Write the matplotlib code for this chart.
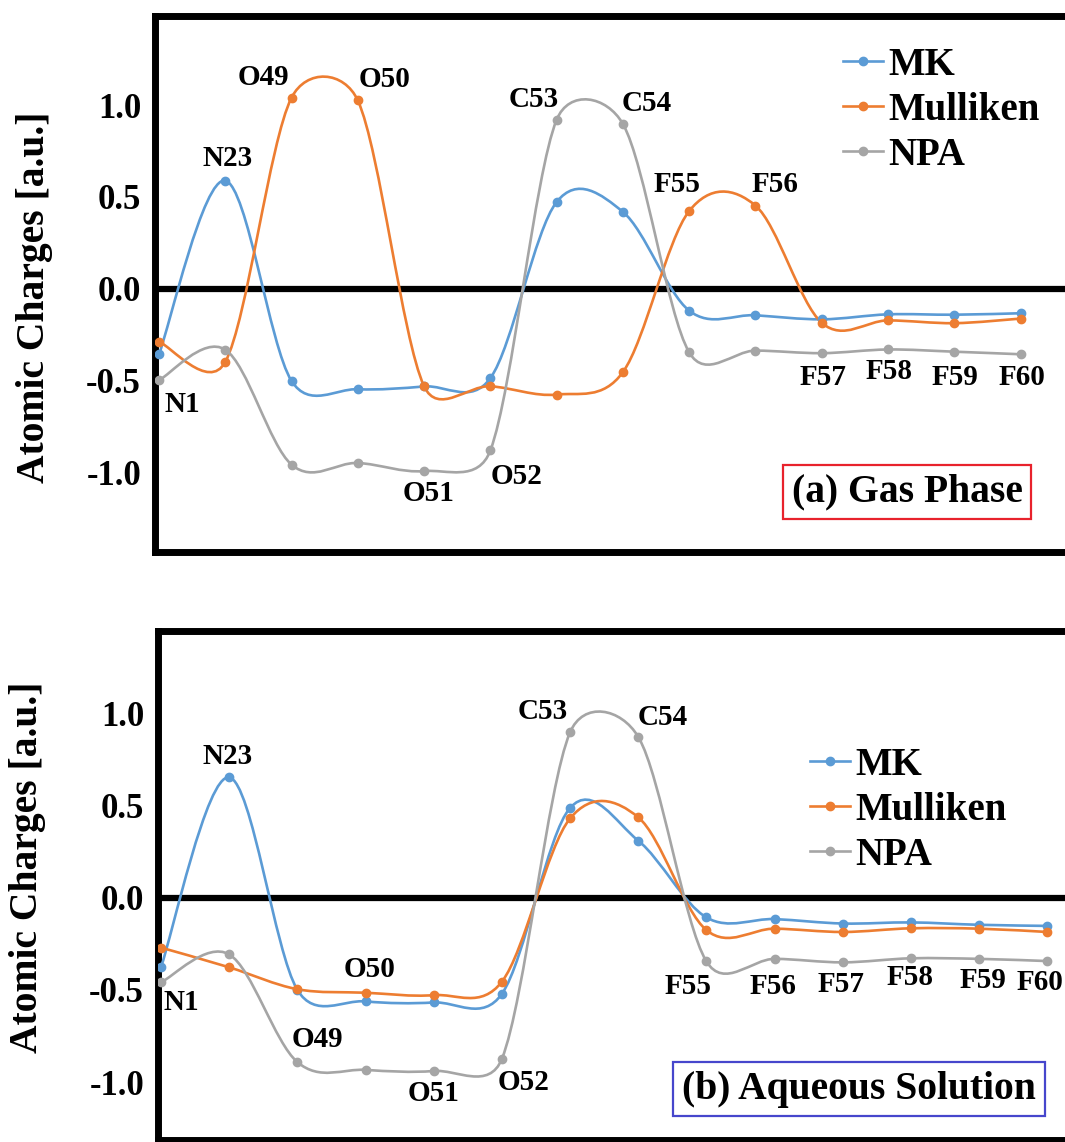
import numpy as np
import matplotlib
matplotlib.use("Agg")
import matplotlib.pyplot as plt
from matplotlib.path import Path
from matplotlib.patches import PathPatch
from matplotlib.lines import Line2D

plt.rcParams["font.family"] = ["Liberation Serif", "DejaVu Serif"]
plt.rcParams["font.weight"] = "bold"

# ---- data ----
atoms = ["N1", "N23", "O49", "O50", "O51", "O52", "C53", "C54",
         "F55", "F56", "F57", "F58", "F59", "F60"]

gas_mk = [-0.355, 0.589, -0.50, -0.545, -0.53, -0.485, 0.473, 0.419,
          -0.118, -0.143, -0.165, -0.138, -0.14, -0.132]
gas_mulliken = [-0.287, -0.397, 1.04, 1.025, -0.529, -0.529, -0.574, -0.452,
                0.424, 0.453, -0.184, -0.171, -0.186, -0.161]
gas_npa = [-0.496, -0.33, -0.955, -0.946, -0.99, -0.878, 0.92, 0.897,
           -0.345, -0.335, -0.349, -0.329, -0.341, -0.355]

aq_mk = [-0.374, 0.655, -0.50, -0.562, -0.568, -0.521, 0.489, 0.311,
         -0.106, -0.115, -0.139, -0.133, -0.146, -0.152]
aq_mulliken = [-0.27, -0.377, -0.496, -0.515, -0.528, -0.455, 0.432, 0.438,
               -0.175, -0.167, -0.185, -0.165, -0.167, -0.185]
aq_npa = [-0.458, -0.307, -0.892, -0.934, -0.94, -0.874, 0.90, 0.875,
          -0.345, -0.331, -0.35, -0.328, -0.331, -0.343]

series_names = ["MK", "Mulliken", "NPA"]
colors = ["#5B9BD5", "#ED7D31", "#A5A5A5"]

# label positions (data coords) for the atom names
gas_label_pos = [(0.35, -0.63), (1.04, 0.71), (1.57, 1.15), (3.41, 1.14),
                 (4.06, -1.11), (5.40, -1.02), (5.66, 1.03), (7.36, 1.01),
                 (7.81, 0.57), (9.29, 0.57), (10.02, -0.48), (11.01, -0.45),
                 (12.01, -0.48), (13.02, -0.48)]
aq_label_pos = [(0.29, -0.57), (0.98, 0.77), (2.30, -0.77), (3.06, -0.39),
                (3.99, -1.06), (5.32, -1.00), (5.60, 1.01), (7.36, 0.98),
                (7.73, -0.48), (8.97, -0.48), (9.97, -0.47), (10.98, -0.43),
                (12.05, -0.45), (12.89, -0.46)]


def smooth_path(x, y, sx, sy):
    # excel-like smoothed line as cubic bezier segments
    x = np.asarray(x, float)
    y = np.asarray(y, float)
    n = len(x)
    verts = [(x[0], y[0])]
    codes = [Path.MOVETO]
    for i in range(n - 1):
        p0 = np.array([x[max(i - 1, 0)], y[max(i - 1, 0)]])
        p1 = np.array([x[i], y[i]])
        p2 = np.array([x[i + 1], y[i + 1]])
        p3 = np.array([x[min(i + 2, n - 1)], y[min(i + 2, n - 1)]])
        chord = np.hypot((p2[0] - p1[0]) * sx, (p2[1] - p1[1]) * sy)
        t1 = (p2 - p0) / 6
        t2 = (p3 - p1) / 6
        for t in (t1, t2):
            L = np.hypot(t[0] * sx, t[1] * sy)
            if L > 0.5 * chord:
                t *= 0.5 * chord / L
        verts += [tuple(p1 + t1), tuple(p2 - t2), tuple(p2)]
        codes += [Path.CURVE4] * 3
    return Path(verts, codes)


fig = plt.figure(figsize=(10.65, 11.42), dpi=100)

panels = [
    dict(rect=[155 / 1065, 1 - 552 / 1142, 1 - 155 / 1065, (552 - 16) / 1142],
         xlim=(-0.06, 13.67), ylim=(-1.43, 1.484), sx=66.3,
         data=[gas_mk, gas_mulliken, gas_npa], labels=gas_label_pos,
         legend_xy=(843, 47), box_xy=(907, 492), box_text="(a) Gas Phase",
         box_color="#E8222C", ylab_xy=(-0.112, 0.476)),
    dict(rect=[158 / 1065, 1 - 1140 / 1142, 1 - 158 / 1065, (1140 - 631) / 1142],
         xlim=(-0.045, 13.26), ylim=(-1.315, 1.45), sx=68.2,
         data=[aq_mk, aq_mulliken, aq_npa], labels=aq_label_pos,
         legend_xy=(810, 747), box_xy=(859, 1089),
         box_text="(b) Aqueous Solution", box_color="#4646CC",
         ylab_xy=(-0.124, 0.535)),
]

x = np.arange(len(atoms))

for p in panels:
    ax = fig.add_axes(p["rect"])
    ax.set_xlim(*p["xlim"])
    ax.set_ylim(*p["ylim"])

    ax.axhline(0, color="black", linewidth=4.5, zorder=1)

    handles = []
    for vals, name, c in zip(p["data"], series_names, colors):
        path = smooth_path(x, vals, p["sx"], 184)
        ax.add_patch(PathPatch(path, facecolor="none", edgecolor=c,
                               linewidth=1.9, zorder=3, capstyle="round"))
        ax.plot(x, vals, "o", color=c, markersize=6, zorder=4)
        handles.append(Line2D([], [], color=c, linewidth=1.9, marker="o",
                              markersize=6, label=name))

    for name, (lx, ly) in zip(atoms, p["labels"]):
        ax.text(lx, ly, name, ha="center", va="center", fontsize=21,
                fontweight="bold", zorder=5)

    for side in ["left", "top", "bottom"]:
        ax.spines[side].set_linewidth(5)
    ax.spines["right"].set_visible(False)

    ax.set_xticks([])
    ax.set_yticks([-1.0, -0.5, 0.0, 0.5, 1.0])
    ax.set_yticklabels(["-1.0", "-0.5", "0.0", "0.5", "1.0"])
    ax.tick_params(axis="y", length=0, pad=10, labelsize=25)
    for lab in ax.get_yticklabels():
        lab.set_fontweight("bold")

    ax.set_ylabel("Atomic Charges [a.u.]", fontsize=28.5, fontweight="bold")
    ax.yaxis.set_label_coords(*p["ylab_xy"])

    lx, ly = p["legend_xy"]
    ax.legend(handles=handles, loc="upper left",
              bbox_to_anchor=(lx / 1065, 1 - ly / 1142),
              bbox_transform=fig.transFigure, frameon=False,
              handlelength=1.03, handletextpad=0.13,
              labelspacing=0.2, borderpad=0, borderaxespad=0,
              prop={"weight": "bold", "size": 28})

    bx, by = p["box_xy"]
    fig.text(bx / 1065, 1 - by / 1142, p["box_text"], ha="center",
             va="center", fontsize=28.5, fontweight="bold",
             bbox=dict(boxstyle="square,pad=0.22", facecolor="white",
                       edgecolor=p["box_color"], linewidth=1.6))

fig.savefig("out.png", dpi=100)
